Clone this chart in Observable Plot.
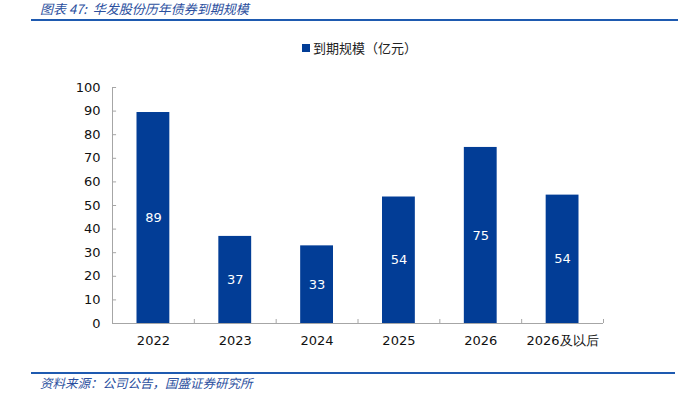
<!DOCTYPE html>
<html>
<head>
<meta charset="utf-8">
<script src="https://cdn.jsdelivr.net/npm/d3@7"></script>
<script src="https://cdn.jsdelivr.net/npm/@observablehq/plot@0.6"></script>
<style>
  html, body { margin: 0; padding: 0; background: #fff; }
  #wrap { position: relative; width: 678px; height: 397px; overflow: hidden; font-family: "Noto Sans CJK SC", "DejaVu Sans", sans-serif; }
  #title { position: absolute; left: 40px; top: 1px; line-height: 15px; font-size: 13px; font-style: italic; color: #2B4F9E; white-space: nowrap; }
  #titleLine { position: absolute; left: 31px; top: 19px; width: 647px; height: 2px; background: #1E5AB0; }
  #legend { position: absolute; left: 302px; top: 38px; font-size: 13px; color: #222; white-space: nowrap; display: flex; align-items: center; }
  #legend .sw { display: inline-block; width: 8px; height: 8px; background: #023D96; margin-right: 3px; }
  #srcLine { position: absolute; left: 31px; top: 372px; width: 644px; height: 2px; background: #1E5AB0; }
  #source { position: absolute; left: 40px; top: 375px; line-height: 16px; font-size: 12.5px; font-style: italic; color: #2B4F9E; white-space: nowrap; }
  #chart { position: absolute; left: 0; top: 0; }
</style>
</head>
<body>
<div id="wrap">
  <div id="chart"></div>
  <div id="title">图表 47:&nbsp; 华发股份历年债券到期规模</div>
  <div id="titleLine"></div>
  <div id="legend"><span class="sw"></span><span>到期规模（亿元）</span></div>
  <div id="srcLine"></div>
  <div id="source">资料来源：公司公告，国盛证券研究所</div>
</div>
<script>
const categories = ["2022", "2023", "2024", "2025", "2026", "2026及以后"];
const values = [89.4, 36.9, 32.9, 53.6, 74.6, 54.4];
const yTicks = [0, 10, 20, 30, 40, 50, 60, 70, 80, 90, 100];

const data = categories.map((c, i) => ({cat: c, i, value: values[i]}));
const barColor = "#023D96";
const axisColor = "#A6A6A6";

const plot = Plot.plot({
  width: 678,
  height: 397,
  marginTop: 87,
  marginBottom: 74,
  marginLeft: 112,
  marginRight: 75,
  style: {fontFamily: "DejaVu Sans, sans-serif", fontSize: "12.5px", color: "#111", background: "transparent"},
  x: {type: "linear", domain: [0, categories.length], axis: null, label: null},
  y: {domain: [0, 100], axis: null, label: null},
  marks: [
    Plot.rectY(data, {x1: d => d.i, x2: d => d.i + 1, y: "value", fill: barColor, insetLeft: 24.5, insetRight: 24.5}),
    Plot.text(data, {x: d => d.i + 0.5, y: d => d.value / 2, text: d => Math.round(d.value).toString(), fill: "white", fontSize: 13}),
    Plot.ruleX([0], {y1: 0, y2: 100, stroke: axisColor}),
    Plot.ruleY(yTicks, {x1: 0, x2: 0.05, stroke: axisColor}),
    Plot.ruleY([0], {x1: 0, x2: categories.length, stroke: axisColor}),
    Plot.ruleX(d3.range(categories.length + 1), {y1: 0, y2: 1.7, stroke: axisColor}),
    Plot.axisY(yTicks, {anchor: "left", tickSize: 0, tickPadding: 12, fontSize: 13, fill: "#111", label: null}),
    Plot.text(data, {x: d => d.i + 0.5, y: 0, text: "cat", dy: 17, fontSize: 13, fill: "#111"})
  ]
});
document.getElementById("chart").appendChild(plot);
</script>
</body>
</html>
